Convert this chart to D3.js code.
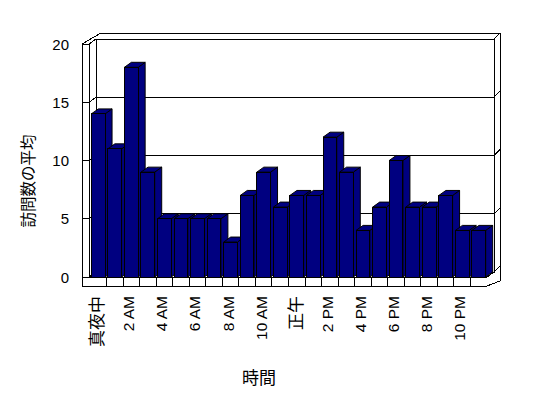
<!DOCTYPE html>
<html>
<head>
<meta charset="utf-8">
<script src="https://cdn.jsdelivr.net/npm/d3@7/dist/d3.min.js"></script>
<style>
  body { margin: 0; background: #fff; }
  svg { display: block; }
</style>
</head>
<body>
<svg id="chart" width="548" height="398"></svg>
<script>
// hours of the day (categories) and average visits per hour
const hours = [0, 1, 2, 3, 4, 5, 6, 7, 8, 9, 10, 11, 12, 13, 14, 15, 16, 17, 18, 19, 20, 21, 22, 23];
const visits = [14, 11, 18, 9, 5, 5, 5, 5, 3, 7, 9, 6, 7, 7, 12, 9, 4, 6, 10, 6, 6, 7, 4, 4];

// labelled hours on the x axis
const tickHours = [0, 2, 4, 6, 8, 10, 12, 14, 16, 18, 20, 22];
const tickLabels = ['真夜中', '2 AM', '4 AM', '6 AM', '8 AM', '10 AM', '正午', '2 PM', '4 PM', '6 PM', '8 PM', '10 PM'];
const yTicks = [0, 5, 10, 15, 20];

const xTitle = '時間';
const yTitle = '訪問数の平均';

const svg = d3.select('#chart');

// front plane of the plot box
const left = 89, right = 487, floorY = 277, topY = 44;
const wallW = 7, floorH = 9;
// depth of the plot (front -> back wall) and thickness of the back wall
const dx = 7, dy = -5;
const bx = 6, by = -6;

const x = d3.scaleBand()
  .domain(hours)
  .range([left + 1, right])
  .paddingInner(0.17)
  .paddingOuter(0.08);

const y = d3.scaleLinear()
  .domain([0, 20])
  .range([floorY, topY]);

const line = d3.line();
const walls = svg.append('g')
  .attr('fill', 'none')
  .attr('stroke', '#000')
  .attr('stroke-width', 1)
  .attr('shape-rendering', 'crispEdges');

// outer outline of the box
walls.append('path')
  .attr('fill', '#fff')
  .attr('d', line([
    [left - wallW, floorY + floorH],
    [left - wallW, topY],
    [left + dx + bx - 1, topY + dy + by],
    [right + dx + bx, topY + dy + by],
    [right + dx + bx, floorY + floorH + dy + by + 6],
    [right, floorY + floorH]
  ]) + 'Z');

// back wall front face
walls.append('rect')
  .attr('x', left + dx)
  .attr('y', y(20) + dy)
  .attr('width', right - left)
  .attr('height', y(0) - y(20));

// left wall inner edge
walls.append('path').attr('d', line([[left, y(20)], [left, y(0)]]));

// floor
walls.append('path').attr('d', line([[left - wallW, floorY], [right, floorY], [right + dx, floorY + dy]]));
walls.append('path').attr('d', line([[left, floorY], [left + dx, floorY + dy]]));

// grid lines: across the left wall, the back wall and its side
walls.selectAll('.grid')
  .data(yTicks)
  .enter().append('path')
  .attr('class', 'grid')
  .attr('d', v => line([
    [left - wallW, y(v)],
    [left, y(v)],
    [left + dx, y(v) + dy],
    [right + dx, y(v) + dy],
    [right + dx + bx, y(v) + dy + by]
  ]));

// separators on the floor front face
const step = x.step();
const gap = step * x.paddingInner() / 2;
walls.selectAll('.sep')
  .data(hours.slice(1))
  .enter().append('path')
  .attr('class', 'sep')
  .attr('d', h => {
    const xb = x(h) - gap;
    return line([[xb, floorY], [xb, floorY + floorH]]);
  });

// bars, drawn left to right so each front face covers the previous side
const bw = x.bandwidth();
const bars = svg.append('g')
  .attr('stroke', '#000')
  .attr('stroke-width', 1)
  .attr('fill', '#000080')
  .selectAll('g')
  .data(hours.map((h, i) => ({ h, v: visits[i] })))
  .enter().append('g');

bars.append('path')
  .attr('d', d => {
    const x0 = x(d.h), yt = y(d.v);
    return line([[x0 + bw, yt], [x0 + bw + dx, yt + dy], [x0 + bw + dx, floorY + dy], [x0 + bw, floorY]]) + 'Z';
  });
bars.append('path')
  .attr('d', d => {
    const x0 = x(d.h), yt = y(d.v);
    return line([[x0, yt], [x0 + bw, yt], [x0 + bw + dx, yt + dy], [x0 + dx, yt + dy]]) + 'Z';
  });
bars.append('rect')
  .attr('shape-rendering', 'crispEdges')
  .attr('x', d => x(d.h))
  .attr('y', d => y(d.v))
  .attr('width', bw)
  .attr('height', d => floorY - y(d.v));

// y axis labels
svg.append('g')
  .selectAll('text')
  .data(yTicks)
  .enter().append('text')
  .attr('x', 69)
  .attr('y', v => y(v))
  .attr('fill', '#000')
  .attr('text-anchor', 'end')
  .attr('dominant-baseline', 'central')
  .style('font-family', '"Liberation Sans", Arial, sans-serif')
  .style('font-size', '15px')
  .text(v => v);

// x axis labels, rotated
const isCJK = s => /[^\x00-\x7F]/.test(s);
svg.append('g')
  .selectAll('text')
  .data(tickHours)
  .enter().append('text')
  .attr('transform', h => `translate(${x(h) + bw / 2 - 2.5},296) rotate(-90)`)
  .attr('fill', '#000')
  .attr('text-anchor', 'end')
  .attr('dominant-baseline', 'central')
  .style('font-family', (h, i) => isCJK(tickLabels[i]) ? '"Noto Sans CJK JP", sans-serif' : '"Liberation Sans Narrow", "Liberation Sans", sans-serif')
  .style('font-size', (h, i) => isCJK(tickLabels[i]) ? '17px' : '15.5px')
  .text((h, i) => tickLabels[i]);

// axis titles
svg.append('text')
  .attr('x', 259)
  .attr('y', 376)
  .attr('fill', '#000')
  .attr('text-anchor', 'middle')
  .attr('dominant-baseline', 'central')
  .style('font-family', '"Noto Sans CJK JP", sans-serif')
  .style('font-size', '17px')
  .text(xTitle);

svg.append('text')
  .attr('transform', 'translate(27,181) rotate(-90)')
  .attr('fill', '#000')
  .attr('text-anchor', 'middle')
  .attr('dominant-baseline', 'central')
  .style('font-family', '"Noto Sans CJK JP", sans-serif')
  .style('font-size', '15.5px')
  .text(yTitle);
</script>
</body>
</html>
